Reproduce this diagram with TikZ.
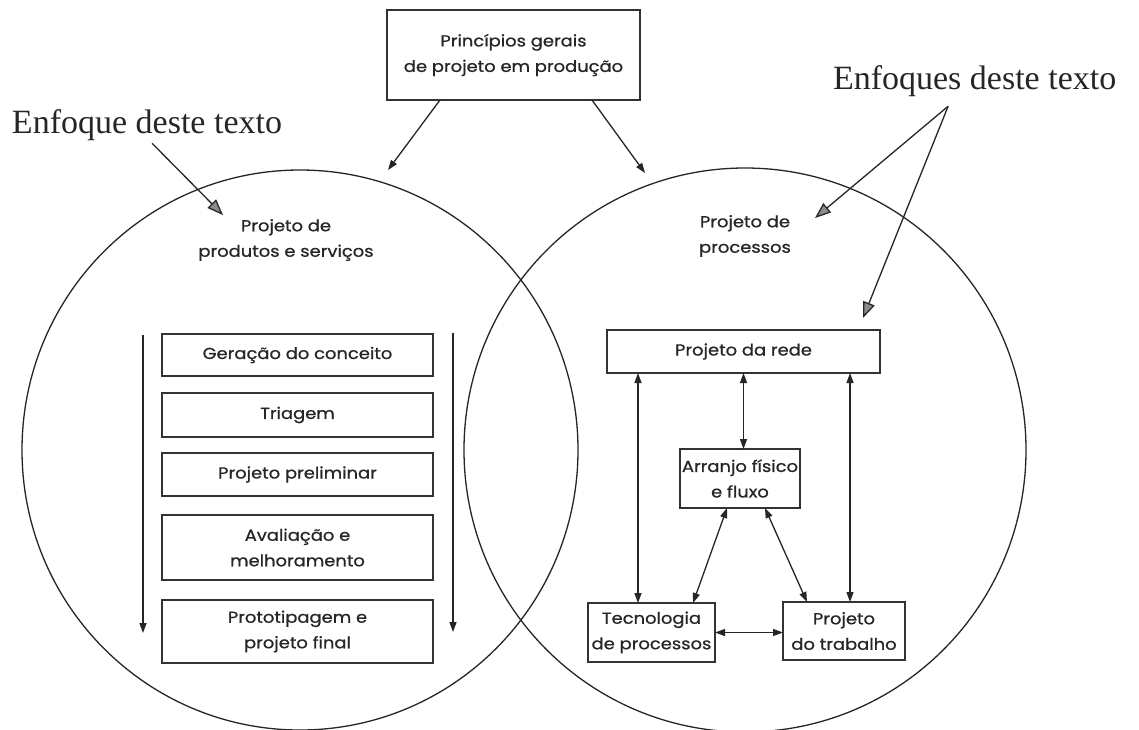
\documentclass[tikz,border=0pt]{standalone}
\usepackage{fontspec}
\usetikzlibrary{arrows.meta,calc}
\newfontfamily\labfont[FakeStretch=1.12,FakeBold=0.8]{Poppins}
\newfontfamily\notefont{Liberation Serif}

\begin{document}
\begin{tikzpicture}[x=1pt,y=-1pt,
  every node/.style={inner sep=0pt,outer sep=0pt},
  lbl/.style={font=\labfont\fontsize{16}{25.5}\selectfont,align=center,text=black!85},
  box/.style={lbl,draw=black!80,line width=1.2pt},
  note/.style={font=\notefont\fontsize{34}{40}\selectfont,text=black!85},
  ring/.style={draw=black!85,line width=1.3pt},
  link/.style={draw=black!85,line width=1.3pt},
  tip/.style={link,-{Triangle[length=10pt,width=7pt]}},
  dbl/.style={link,{Triangle[length=10pt,width=7pt]}-{Triangle[length=10pt,width=7pt]}},
  focus/.style={link,-{Triangle[length=16pt,width=12pt,fill=black!45]}}]

\useasboundingbox[fill=white] (0,0) rectangle (1139,729);

% the two overlapping design areas
\draw[ring] (300,450) ellipse [x radius=278pt,y radius=280pt];
\draw[ring] (745,450) ellipse [x radius=281pt,y radius=282pt];

% general principles
\node[box,minimum width=253pt,minimum height=90pt] (top) at (513.5,55)
  {Princípios gerais\\de projeto em produção};
\coordinate (tl) at (388,170);
\coordinate (tr) at (645,173);
\draw[tip] ([xshift=-73.5pt]top.south) -- (tl);
\draw[tip] ([xshift=78.5pt]top.south) -- (tr);

% focus notes
\node[note,anchor=base west] (e1) at (12,133) {Enfoque deste texto};
\node[note,anchor=base west] (e2) at (833,89) {Enfoques deste texto};
\coordinate (f1) at (223,215);
\coordinate (f2) at (815,218);
\coordinate (f3) at (863,318);
\draw[focus] ([xshift=5pt,yshift=-3pt]e1.south) -- (f1);
\draw[focus] ([xshift=-26.5pt,yshift=-10pt]e2.south) -- (f2);
\draw[focus] ([xshift=-26.5pt,yshift=-10pt]e2.south) -- (f3);

% area titles
\node[lbl] (pps) at (286,240) {Projeto de\\produtos e serviços};
\node[lbl] (pp) at (745,236) {Projeto de\\processos};

% product and service design stages
\node[box,minimum width=271pt,minimum height=42pt] (g1) at (297.5,355) {Geração do conceito};
\node[box,minimum width=271pt,minimum height=44pt] (g2) at (297.5,415) {Triagem};
\node[box,minimum width=271pt,minimum height=43pt] (g3) at (297.5,474.5) {Projeto preliminar};
\node[box,minimum width=271pt,minimum height=65pt] (g4) at (297.5,547.5) {Avaliação e\\melhoramento};
\node[box,minimum width=271pt,minimum height=63pt] (g5) at (297.5,631.5) {Prototipagem e\\projeto final};
\coordinate (s1) at (143,335);
\coordinate (s1e) at (143,633);
\coordinate (s2) at (453,333);
\coordinate (s2e) at (453,632);
\draw[tip] (s1) -- (s1e);
\draw[tip] (s2) -- (s2e);

% process design
\node[box,minimum width=273pt,minimum height=43pt] (rede) at (743.5,351.5) {Projeto da rede};
\node[box,minimum width=120pt,minimum height=59pt] (arr) at (740,478.5) {Arranjo físico\\e fluxo};
\node[box,minimum width=127pt,minimum height=59pt] (tec) at (651.5,632.5) {Tecnologia\\de processos};
\node[box,minimum width=122pt,minimum height=58pt] (trab) at (844,631) {Projeto\\do trabalho};

\draw[dbl] ([xshift=-13.5pt]tec.north |- rede.south) -- ([xshift=-13.5pt]tec.north);
\draw[dbl] (rede.south) -- (rede.south |- arr.north);
\draw[dbl] ([xshift=6pt]trab.north |- rede.south) -- ([xshift=6pt]trab.north);
\draw[dbl] ([xshift=-13pt]arr.south) -- ([xshift=41.5pt]tec.north);
\draw[dbl] ([xshift=25pt]arr.south) -- ([xshift=-37pt]trab.north);
\draw[dbl] (tec.east) -- (tec.east -| trab.west);
\end{tikzpicture}
\end{document}
